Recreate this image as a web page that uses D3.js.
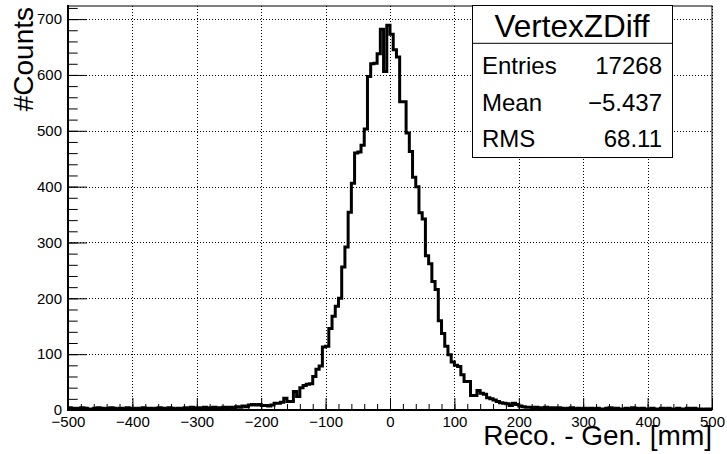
<!DOCTYPE html>
<html>
<head>
<meta charset="utf-8">
<script src="https://cdn.jsdelivr.net/npm/d3@7"></script>
<style>
  body { margin: 0; background: #fff; }
  svg { display: block; }
  text { font-family: "Liberation Sans", Arial, Helvetica, sans-serif; fill: #000; }
</style>
</head>
<body>
<svg id="chart" width="727" height="454"></svg>
<script>
// Histogram binning: 200 bins of 5 mm from -500 to +500
const xMin = -500;
const xMax = 500;
const binWidth = 5;

// Bin contents, left to right
const counts = [
  // -500 .. -225
  4, 3, 2, 3, 4, 3, 2, 2, 3, 4,
  3, 2, 3, 4, 3, 2, 3, 2, 4, 3,
  2, 3, 2, 4, 3, 3, 2, 3, 4, 3,
  2, 4, 3, 2, 3, 2, 4, 3, 5, 3,
  4, 3, 5, 3, 4, 5, 3, 4, 5, 4,
  5, 4, 6, 5, 7,
  // -225 .. -170
  6, 9, 10, 9, 10, 8, 8, 7, 9, 12, 12,
  // -170 .. 80
  14, 21, 15, 15, 33, 24, 40, 44, 46, 47,
  60, 73, 79, 113, 114, 146, 168, 186, 200, 256,
  292, 354, 406, 460, 462, 474, 503, 597, 620, 621,
  638, 682, 606, 689, 673, 645, 632, 552, 552, 496,
  463, 417, 400, 353, 342, 276, 262, 230, 216, 160,
  // 80 .. 215
  137, 114, 99, 86, 80, 78, 63, 51, 51, 26,
  26, 35, 30, 28, 22, 20, 18, 15, 13, 12,
  11, 8, 12, 10, 7, 6, 5,
  // 215 .. 500
  5, 4, 5, 3, 4, 5, 3, 4, 3, 4,
  3, 2, 3, 4, 2, 3, 2, 3, 2, 3,
  2, 3, 2, 2, 3, 4, 2, 3, 2, 2,
  3, 2, 4, 3, 2, 3, 2, 2, 3, 2,
  2, 3, 2, 3, 2, 1, 3, 2, 2, 3,
  2, 3, 2, 2, 1, 2, 2
];

const xTicks = d3.range(-500, 501, 100);
const xMinorTicks = d3.range(-500, 501, 20);
const yTicks = d3.range(0, 701, 100);
const yMinorTicks = d3.range(0, 721, 20);

const histName = "VertexZDiff";
const statLabels = ["Entries", "Mean", "RMS"];
const statValues = ["17268", "\u22125.437", "68.11"];
const xTitle = "Reco. - Gen. [mm]";
const yTitle = "#Counts";

// Frame geometry
const frame = { left: 68, right: 712, top: 6, bottom: 410 };
const yMaxVal = 1.05 * d3.max(counts);

const x = d3.scaleLinear().domain([xMin, xMax]).range([frame.left, frame.right]);
const y = d3.scaleLinear().domain([0, yMaxVal]).range([frame.bottom, frame.top]);

const svg = d3.select("#chart");

// Dotted grid at the major ticks
const grid = svg.append("g").attr("stroke", "#000").attr("stroke-width", 1)
  .attr("stroke-dasharray", "1,2");
grid.selectAll("line.gx").data(xTicks).join("line").attr("class", "gx")
  .attr("x1", d => Math.round(x(d)) + 0.5).attr("x2", d => Math.round(x(d)) + 0.5)
  .attr("y1", frame.top).attr("y2", frame.bottom);
grid.selectAll("line.gy").data(yTicks).join("line").attr("class", "gy")
  .attr("y1", d => Math.round(y(d)) + 0.5).attr("y2", d => Math.round(y(d)) + 0.5)
  .attr("x1", frame.left).attr("x2", frame.right);

// Histogram outline drawn as a step curve through the bin edges
const pts = counts.map((c, i) => [xMin + i * binWidth, c]);
pts.push([xMax, counts[counts.length - 1]]);
const step = d3.line().x(d => x(d[0])).y(d => y(d[1])).curve(d3.curveStepAfter);
svg.append("path").datum(pts)
  .attr("d", step)
  .attr("fill", "none")
  .attr("stroke", "#000")
  .attr("stroke-width", 3)
  .attr("stroke-linejoin", "miter");

// Frame
svg.append("rect").attr("x", frame.left).attr("y", frame.top)
  .attr("width", frame.right - frame.left).attr("height", frame.bottom - frame.top)
  .attr("fill", "none").attr("stroke", "#000").attr("stroke-width", 1);

// Axes: ticks point into the frame
const fmt = d3.format("d");
const yAxis = d3.axisLeft(y).tickValues(yTicks).tickSize(-19).tickSizeOuter(0)
  .tickPadding(6).tickFormat(fmt);
const yMinor = d3.axisLeft(y).tickValues(yMinorTicks).tickSize(-9.7).tickSizeOuter(0)
  .tickFormat("");
const xAxis = d3.axisBottom(x).tickValues(xTicks).tickSize(-12).tickSizeOuter(0)
  .tickPadding(6).tickFormat(fmt);
const xMinor = d3.axisBottom(x).tickValues(xMinorTicks).tickSize(-6).tickSizeOuter(0)
  .tickFormat("");

function styleAxis(g) {
  g.select(".domain").remove();
  g.selectAll(".tick line").attr("stroke", "#000").attr("stroke-width", 1);
  g.selectAll("text").attr("font-size", 15).attr("font-family", "Liberation Sans, Arial, sans-serif");
}
svg.append("g").attr("transform", `translate(${frame.left},0)`).call(yMinor).call(styleAxis);
svg.append("g").attr("transform", `translate(${frame.left},0)`).call(yAxis).call(styleAxis);
svg.append("g").attr("transform", `translate(0,${frame.bottom})`).call(xMinor).call(styleAxis);
svg.append("g").attr("transform", `translate(0,${frame.bottom})`).call(xAxis).call(styleAxis);

// Heavy axis lines
svg.append("line").attr("x1", frame.left).attr("x2", frame.left)
  .attr("y1", frame.top - 1).attr("y2", frame.bottom + 1)
  .attr("stroke", "#000").attr("stroke-width", 2);
svg.append("line").attr("x1", frame.left - 1).attr("x2", frame.right)
  .attr("y1", frame.bottom).attr("y2", frame.bottom)
  .attr("stroke", "#000").attr("stroke-width", 2);

// Axis titles
svg.append("text")
  .attr("transform", `translate(33,7) rotate(-90)`)
  .attr("text-anchor", "end")
  .attr("font-size", 28)
  .text(yTitle);
svg.append("text")
  .attr("x", frame.right).attr("y", 445)
  .attr("text-anchor", "end")
  .attr("font-size", 28)
  .text(xTitle);

// Statistics box
const box = { x: 472, y: 5, w: 200, h: 152, split: 43.3 };
const stats = svg.append("g");
stats.append("rect").attr("x", box.x + 0.5).attr("y", box.y + 0.5)
  .attr("width", box.w).attr("height", box.h)
  .attr("fill", "#fff").attr("stroke", "#000").attr("stroke-width", 1);
stats.append("line").attr("x1", box.x).attr("x2", box.x + box.w)
  .attr("y1", box.split).attr("y2", box.split).attr("stroke", "#000").attr("stroke-width", 1);
stats.append("text").attr("x", box.x + box.w / 2).attr("y", 36.5)
  .attr("text-anchor", "middle").attr("font-size", 31.5).text(histName);
const rowBase = [74, 110.7, 147.3];
statLabels.forEach((lab, i) => {
  stats.append("text").attr("x", box.x + 10).attr("y", rowBase[i])
    .attr("font-size", 24).text(lab);
  stats.append("text").attr("x", box.x + box.w - 10).attr("y", rowBase[i])
    .attr("text-anchor", "end").attr("font-size", 24).text(statValues[i]);
});
</script>
</body>
</html>
